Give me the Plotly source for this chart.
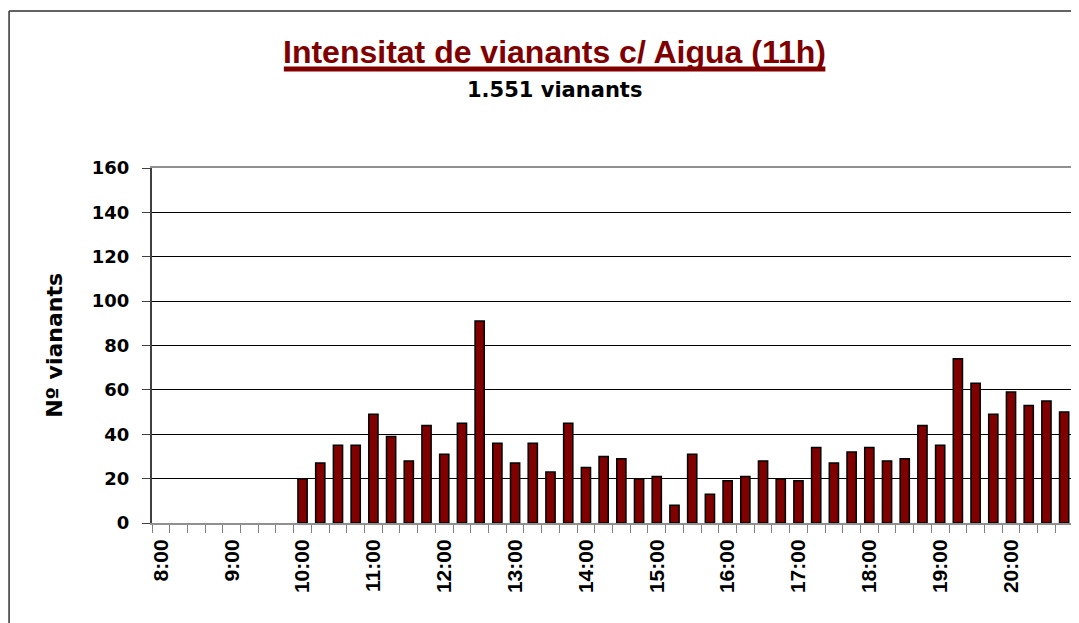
import plotly.graph_objects as go

# 15-minute intervals from 8:00 to 20:45
times = [
    "8:00", "8:15", "8:30", "8:45", "9:00", "9:15", "9:30", "9:45",
    "10:00", "10:15", "10:30", "10:45", "11:00", "11:15", "11:30", "11:45",
    "12:00", "12:15", "12:30", "12:45", "13:00", "13:15", "13:30", "13:45",
    "14:00", "14:15", "14:30", "14:45", "15:00", "15:15", "15:30", "15:45",
    "16:00", "16:15", "16:30", "16:45", "17:00", "17:15", "17:30", "17:45",
    "18:00", "18:15", "18:30", "18:45", "19:00", "19:15", "19:30", "19:45",
    "20:00", "20:15", "20:30", "20:45",
]

vianants = [
    None, None, None, None, None, None, None, None,
    20, 27, 35, 35, 49, 39, 28, 44,
    31, 45, 91, 36, 27, 36, 23, 45,
    25, 30, 29, 20, 21, 8, 31, 13,
    19, 21, 28, 20, 19, 34, 27, 32,
    34, 28, 29, 44, 35, 74, 63, 49,
    59, 53, 55, 50,
]

hour_labels = ["8:00", "9:00", "10:00", "11:00", "12:00", "13:00", "14:00",
               "15:00", "16:00", "17:00", "18:00", "19:00", "20:00"]

y_ticks = [0, 20, 40, 60, 80, 100, 120, 140, 160]

title_text = "Intensitat de vianants c/ Aigua (11h)"
subtitle_text = "1.551 vianants"
y_title = "Nº vianants"

tick_text = [t if t in hour_labels else "" for t in times]

# page has an 8px body margin: figure starts at (8, 8) in the window
OFF = 8
W, H = 1079 - OFF, 623 - OFF
L, T, B = 152 - OFF, 168 - OFF, 100
PLOT_RIGHT = 1073
pw = PLOT_RIGHT - 152
ph = H - T - B


def px_x(px):
    return (px - 152) / pw


def px_y(py):
    return (H - B - (py - OFF)) / ph


fig = go.Figure()
fig.add_trace(go.Bar(
    x=times,
    y=vianants,
    marker=dict(color="#800000", line=dict(color="#000000", width=1.5)),
    showlegend=False,
))

fig.update_layout(
    width=W,
    height=H,
    margin=dict(l=L, r=0, t=T, b=B, pad=0),
    paper_bgcolor="white",
    plot_bgcolor="white",
    bargap=0.48,
    font=dict(family="DejaVu Sans", color="black"),
    xaxis=dict(
        type="category",
        tickmode="array",
        tickvals=times,
        ticktext=tick_text,
        tickson="boundaries",
        ticks="outside",
        ticklen=8,
        tickcolor="#808080",
        tickwidth=1,
        tickangle=-90,
        tickfont=dict(family="Liberation Sans", size=21, color="black", weight="bold"),
        ticklabelstandoff=6,
        showline=True,
        linecolor="#909090",
        linewidth=2,
        mirror=True,
        showgrid=False,
        range=[-0.5, len(times) - 0.5],
        domain=[0, pw / (W - L)],
    ),
    yaxis=dict(
        range=[0, 160],
        tickmode="array",
        tickvals=y_ticks,
        ticktext=[str(v) for v in y_ticks],
        ticks="outside",
        ticklen=8,
        tickcolor="#404040",
        tickfont=dict(family="DejaVu Sans", size=18, color="black", weight="bold"),
        ticklabelstandoff=9,
        showline=True,
        linecolor="#404040",
        linewidth=2,
        showgrid=True,
        gridcolor="black",
        gridwidth=1,
        zeroline=False,
    ),
    annotations=[
        dict(
            text=title_text, xref="paper", yref="paper",
            x=px_x(552), y=px_y(52), xanchor="center", yanchor="middle",
            showarrow=False,
            font=dict(family="Liberation Sans", size=32, color="#800000", weight="bold"),
        ),
        dict(
            text=subtitle_text, xref="paper", yref="paper",
            x=px_x(552), y=px_y(90), xanchor="center", yanchor="middle",
            showarrow=False,
            font=dict(family="DejaVu Sans", size=21, color="black", weight="bold"),
        ),
        dict(
            text=y_title, xref="paper", yref="paper",
            x=px_x(55), y=0.5, xanchor="center", yanchor="middle",
            textangle=-90, showarrow=False,
            font=dict(family="DejaVu Sans", size=22, color="black", weight="bold"),
        ),
    ],
    shapes=[
        # title underline
        dict(type="line", xref="paper", yref="paper",
             x0=px_x(283), x1=px_x(821), y0=px_y(69), y1=px_y(69),
             line=dict(color="#800000", width=5)),
        # right border of plot area
        dict(type="line", xref="x domain", yref="y domain",
             x0=1, x1=1, y0=0, y1=1,
             line=dict(color="#909090", width=2)),
        # outer chart frame
        dict(type="line", xref="paper", yref="paper",
             x0=px_x(10), x1=px_x(1100), y0=px_y(11), y1=px_y(11),
             line=dict(color="#303030", width=1.5)),
        dict(type="line", xref="paper", yref="paper",
             x0=px_x(10), x1=px_x(10), y0=px_y(11), y1=px_y(640),
             line=dict(color="#303030", width=1.5)),
    ],
)

fig.write_html("out.html")
